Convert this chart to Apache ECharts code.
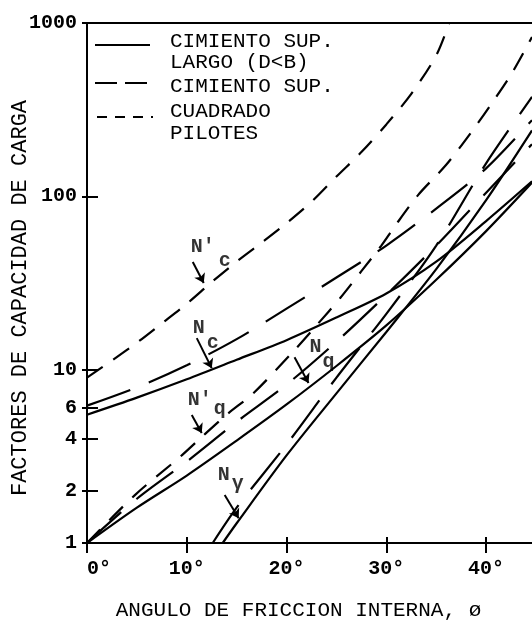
<!DOCTYPE html>
<html>
<head>
<meta charset="utf-8">
<script src="https://cdn.jsdelivr.net/npm/echarts@6/dist/echarts.min.js"></script>
<style>
html,body{margin:0;padding:0;background:#fff;}
#chart{width:532px;height:621px;}
</style>
</head>
<body>
<div id="chart"></div>
<script>
// ---- axis ticks ----
const xTicks = [0, 10, 20, 30, 40];
const yTicks = [1, 2, 4, 6, 10, 100, 1000];

// ---- curves: friction angle (deg) and factor value ----
// strip footing (solid)
const phiNcStrip = [0, 5, 10, 15, 20, 25, 30, 35, 40, 44.6];
const ncStrip    = [5.5, 6.9, 8.8, 11.4, 14.8, 20, 27.5, 42, 72, 122];
const phiNqStrip = [0, 5, 10, 15, 20, 25, 30, 35, 40, 44.6];
const nqStrip    = [1, 1.6, 2.45, 3.9, 6.3, 10.5, 18, 33, 63, 120];
const phiNgStrip = [13.6, 15, 20, 25, 30, 35, 40, 44.6];
const ngStrip    = [1, 1.3, 3.2, 7.3, 16.5, 38, 95, 240];
// square footing (long dash)
const phiNcSquare = [0, 5, 10, 15, 20, 25, 30, 35, 40, 44.6];
const ncSquare    = [6.2, 7.9, 10.6, 15, 22.5, 34, 52, 85, 145, 275];
const phiNqSquare = [0, 5, 10, 15, 20, 25, 30, 35, 40, 44.6];
const nqSquare    = [1, 1.8, 2.95, 5.0, 8.2, 14.5, 27, 52, 105, 200];
const phiNgSquare = [12.6, 15, 20, 25, 30, 35, 40, 44.6];
const ngSquare    = [1, 1.6, 3.7, 9, 21, 52, 155, 375];
// piles (short dash)
const phiNcPile = [0, 2.5, 5, 7.5, 10, 12.5, 15, 17.5, 20, 22.5, 25, 27.5, 30, 32.5, 35, 36.3];
const ncPile    = [9, 11.3, 14.3, 18.5, 24, 32, 42, 54, 70, 93, 130, 180, 260, 390, 650, 1000];
const phiNqPile = [0, 4.8, 9.3, 11.5, 14, 16.7, 20.6, 23, 25.4, 27.5, 29.5, 30.8, 33.2, 36, 38.6, 40.6, 42.6, 44.6];
const nqPile    = [1, 1.89, 3.13, 4.09, 5.5, 7.34, 12.6, 18, 26, 37, 52, 66.6, 102, 152, 238, 346, 515, 830];

// ---- curve annotations ----
const noteTexts = ["N'", "c", "N", "c", "N'", "q", "N", "q", "N", "γ"];
const notePhi   = [11.6, 13.8, 11.2, 12.6, 11.3, 13.3, 22.9, 24.2, 13.7, 15.1];
const noteVal   = [51, 42.4, 17.4, 14.3, 6.7, 5.9, 13.5, 11.1, 2.47, 2.2];
const arrowFrom = [[10.6, 41.8], [11.0, 15.2], [10.5, 5.48], [20.8, 11.8], [13.8, 1.89]];
const arrowTo   = [[11.7, 31.6], [12.5, 10.2], [11.5, 4.31], [22.2, 8.38], [15.2, 1.39]];

const FONT = '"Liberation Mono", "DejaVu Sans Mono", monospace';
const pts = (p, v) => p.map((x, i) => [x, v[i]]);

const SOLID = 'solid';
const LONG = [46, 20];
const SHORT = [19, 13];

function curve(name, phis, vals, dash) {
  return {
    type: 'line', name: name, data: pts(phis, vals),
    xAxisIndex: 0, yAxisIndex: 0,
    symbol: 'none', showSymbol: false, smooth: 0.3,
    lineStyle: { color: '#000', width: 2.2, type: dash },
    silent: true, z: 3
  };
}

const chart = echarts.init(document.getElementById('chart'), null, { renderer: 'canvas' });

const axisCommonX = { type: 'value', min: 0, max: 45, interval: 10, splitLine: { show: false } };
const axisCommonY = { type: 'log', logBase: 10, min: 1, max: 1000, splitLine: { show: false }, minorTick: { show: false } };

const option = {
  backgroundColor: '#fff',
  animation: false,
  grid: { left: 87, top: 23, right: -4, bottom: 78, show: true, borderColor: '#000', borderWidth: 2,
          containLabel: false, outerBoundsMode: 'none' },
  xAxis: [
    Object.assign({}, axisCommonX, {
      position: 'bottom',
      axisLine: { show: true, lineStyle: { color: '#000', width: 2 } },
      axisTick: { show: true, inside: false, length: 10, lineStyle: { color: '#000', width: 2 } },
      axisLabel: { show: true, margin: 16, color: '#000', fontFamily: FONT, fontSize: 20, fontWeight: 'bold',
                   alignMinLabel: 'left',
                   formatter: v => (xTicks.indexOf(v) >= 0 ? v + '°' : '') },
      name: 'ANGULO DE FRICCION INTERNA, ø', nameLocation: 'middle', nameGap: 57, nameMoveOverlap: false,
      nameTextStyle: { color: '#000', fontFamily: FONT, fontSize: 21, padding: [0, 26, 0, 0] }
    }),
    Object.assign({}, axisCommonX, {
      position: 'bottom',
      axisLine: { show: false },
      axisTick: { show: true, inside: true, length: 6, lineStyle: { color: '#000', width: 2 } },
      axisLabel: { show: false }
    })
  ],
  yAxis: [
    Object.assign({}, axisCommonY, {
      position: 'left',
      axisLine: { show: true, lineStyle: { color: '#000', width: 2 } },
      axisTick: { show: true, inside: false, length: 5, customValues: yTicks, lineStyle: { color: '#000', width: 2 } },
      axisLabel: { show: true, margin: 10, color: '#000', fontFamily: FONT, fontSize: 20, fontWeight: 'bold', customValues: yTicks,
                   formatter: v => String(Math.round(v)) },
      name: 'FACTORES DE CAPACIDAD DE CARGA', nameLocation: 'middle', nameGap: 56, nameRotate: 90, nameMoveOverlap: false,
      nameTextStyle: { color: '#000', fontFamily: FONT, fontSize: 22, padding: [0, 30, 0, 0] }
    }),
    Object.assign({}, axisCommonY, {
      position: 'left',
      axisLine: { show: false },
      axisTick: { show: true, inside: true, length: 11, customValues: yTicks, lineStyle: { color: '#000', width: 2 } },
      axisLabel: { show: false }
    })
  ],
  series: [
    curve('Nc pilotes', phiNcPile, ncPile, SHORT),
    curve('Nq pilotes', phiNqPile, nqPile, SHORT),
    curve('Nc cuadrado', phiNcSquare, ncSquare, LONG),
    curve('Nq cuadrado', phiNqSquare, nqSquare, LONG),
    curve('Ng cuadrado', phiNgSquare, ngSquare, LONG),
    curve('Nc largo', phiNcStrip, ncStrip, SOLID),
    curve('Nq largo', phiNqStrip, nqStrip, SOLID),
    curve('Ng largo', phiNgStrip, ngStrip, SOLID),
    {
      type: 'scatter', name: 'notes', xAxisIndex: 0, yAxisIndex: 0,
      symbolSize: 1, itemStyle: { color: 'rgba(0,0,0,0)' }, silent: true, z: 5,
      data: noteTexts.map((t, i) => ({ name: t, value: [notePhi[i], noteVal[i]] })),
      label: { show: true, position: 'inside', formatter: '{b}', color: '#000',
               fontFamily: FONT, fontSize: 20, fontWeight: 'bold' },
      markLine: {
        silent: true, symbol: ['none', 'arrow'], symbolSize: 9,
        label: { show: false },
        lineStyle: { color: '#000', width: 2, type: 'solid' },
        data: arrowFrom.map((a, i) => [{ coord: a }, { coord: arrowTo[i] }])
      }
    }
  ],
  graphic: [
    { type: 'line', shape: { x1: 95, y1: 45, x2: 150, y2: 45 }, style: { stroke: '#000', lineWidth: 2 } },
    { type: 'line', shape: { x1: 95, y1: 83, x2: 148, y2: 83 }, style: { stroke: '#000', lineWidth: 2, lineDash: [22, 8] } },
    { type: 'line', shape: { x1: 97, y1: 117, x2: 153, y2: 117 }, style: { stroke: '#000', lineWidth: 2, lineDash: [10, 8] } },
    { type: 'text', x: 170, y: 41, style: { text: 'CIMIENTO SUP.', fill: '#000', fontFamily: FONT, fontSize: 21, verticalAlign: 'middle' } },
    { type: 'text', x: 170, y: 62, style: { text: 'LARGO (D<B)', fill: '#000', fontFamily: FONT, fontSize: 21, verticalAlign: 'middle' } },
    { type: 'text', x: 170, y: 86, style: { text: 'CIMIENTO SUP.', fill: '#000', fontFamily: FONT, fontSize: 21, verticalAlign: 'middle' } },
    { type: 'text', x: 170, y: 111, style: { text: 'CUADRADO', fill: '#000', fontFamily: FONT, fontSize: 21, verticalAlign: 'middle' } },
    { type: 'text', x: 170, y: 133, style: { text: 'PILOTES', fill: '#000', fontFamily: FONT, fontSize: 21, verticalAlign: 'middle' } }
  ]
};
chart.setOption(option);
</script>
</body>
</html>
